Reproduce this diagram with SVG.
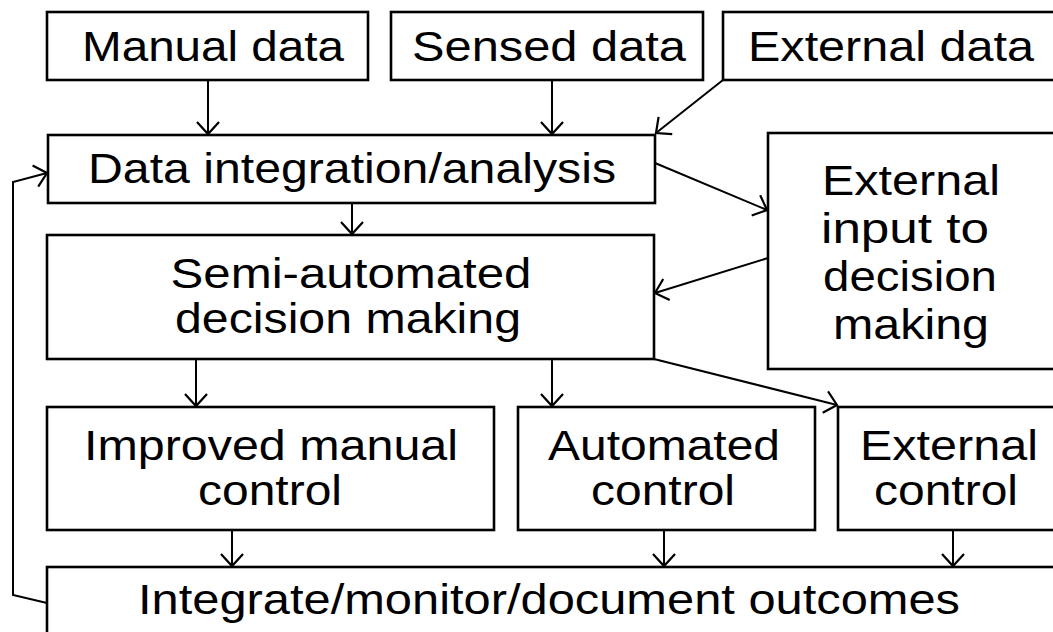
<svg xmlns="http://www.w3.org/2000/svg" width="1053" height="632" viewBox="0 0 1053 632">
  <style>
    .box { fill: #ffffff; stroke: #000000; stroke-width: 2.6; }
    .lbl { font-family: "Liberation Sans", Arial, sans-serif; font-size: 43px; fill: #000000; text-anchor: middle; }
    .conn { fill: none; stroke: #000000; stroke-width: 2; marker-end: url(#arrow); }
  </style>
  <defs>
    <marker id="arrow" markerUnits="userSpaceOnUse" markerWidth="28" markerHeight="28" viewBox="-14 -14 28 28" refX="0" refY="0" orient="auto">
      <path d="M-12,-11 L0,0 L-12,11" fill="none" stroke="#000000" stroke-width="2.2"/>
    </marker>
  </defs>
  <rect width="1053" height="632" fill="#ffffff"/>

  <!-- connectors -->
  <g id="connectors">
    <line class="conn" x1="208" y1="80" x2="208" y2="134"/>
    <line class="conn" x1="552" y1="80" x2="552" y2="134"/>
    <line class="conn" x1="723" y1="80" x2="656" y2="133"/>
    <line class="conn" x1="655" y1="163" x2="767" y2="210"/>
    <line class="conn" x1="352" y1="203" x2="352" y2="234"/>
    <line class="conn" x1="768" y1="258" x2="655" y2="293"/>
    <line class="conn" x1="196" y1="359" x2="196" y2="406"/>
    <line class="conn" x1="552" y1="359" x2="552" y2="406"/>
    <line class="conn" x1="654" y1="359" x2="837" y2="405"/>
    <line class="conn" x1="232" y1="530" x2="232" y2="566"/>
    <line class="conn" x1="664" y1="530" x2="664" y2="566"/>
    <line class="conn" x1="953" y1="530" x2="953" y2="566"/>
    <polyline class="conn" points="47,603 13,595 13,182 47,173"/>
  </g>

  <g id="manual-data">
    <rect class="box" x="47" y="12" width="321" height="68"/>
    <text class="lbl" x="213" y="61" textLength="262" lengthAdjust="spacingAndGlyphs">Manual data</text>
  </g>
  <g id="sensed-data">
    <rect class="box" x="391" y="12" width="312" height="68"/>
    <text class="lbl" x="549" y="61" textLength="274" lengthAdjust="spacingAndGlyphs">Sensed data</text>
  </g>
  <g id="external-data">
    <rect class="box" x="723" y="12" width="340" height="68"/>
    <text class="lbl" x="891" y="61" textLength="286" lengthAdjust="spacingAndGlyphs">External data</text>
  </g>
  <g id="data-integration">
    <rect class="box" x="48" y="135" width="607" height="68"/>
    <text class="lbl" x="352" y="183" textLength="528" lengthAdjust="spacingAndGlyphs">Data integration/analysis</text>
  </g>
  <g id="external-input">
    <rect class="box" x="768" y="133" width="300" height="236"/>
    <text class="lbl" x="911" y="195" textLength="178" lengthAdjust="spacingAndGlyphs">External</text>
    <text class="lbl" x="905" y="243" textLength="168" lengthAdjust="spacingAndGlyphs">input to</text>
    <text class="lbl" x="910" y="291" textLength="174" lengthAdjust="spacingAndGlyphs">decision</text>
    <text class="lbl" x="911" y="339" textLength="156" lengthAdjust="spacingAndGlyphs">making</text>
  </g>
  <g id="semi-automated">
    <rect class="box" x="47" y="235" width="607" height="124"/>
    <text class="lbl" x="351" y="288" textLength="361" lengthAdjust="spacingAndGlyphs">Semi-automated</text>
    <text class="lbl" x="348" y="333" textLength="346" lengthAdjust="spacingAndGlyphs">decision making</text>
  </g>
  <g id="improved-manual">
    <rect class="box" x="47" y="407" width="447" height="123"/>
    <text class="lbl" x="271" y="460" textLength="374" lengthAdjust="spacingAndGlyphs">Improved manual</text>
    <text class="lbl" x="270" y="505" textLength="144" lengthAdjust="spacingAndGlyphs">control</text>
  </g>
  <g id="automated-control">
    <rect class="box" x="518" y="407" width="297" height="123"/>
    <text class="lbl" x="664" y="460" textLength="232" lengthAdjust="spacingAndGlyphs">Automated</text>
    <text class="lbl" x="663" y="505" textLength="144" lengthAdjust="spacingAndGlyphs">control</text>
  </g>
  <g id="external-control">
    <rect class="box" x="838" y="407" width="230" height="123"/>
    <text class="lbl" x="949" y="460" textLength="178" lengthAdjust="spacingAndGlyphs">External</text>
    <text class="lbl" x="946" y="505" textLength="144" lengthAdjust="spacingAndGlyphs">control</text>
  </g>
  <g id="outcomes">
    <rect class="box" x="47" y="567" width="1020" height="80"/>
    <text class="lbl" x="549" y="614" textLength="822" lengthAdjust="spacingAndGlyphs">Integrate/monitor/document outcomes</text>
  </g>
</svg>
